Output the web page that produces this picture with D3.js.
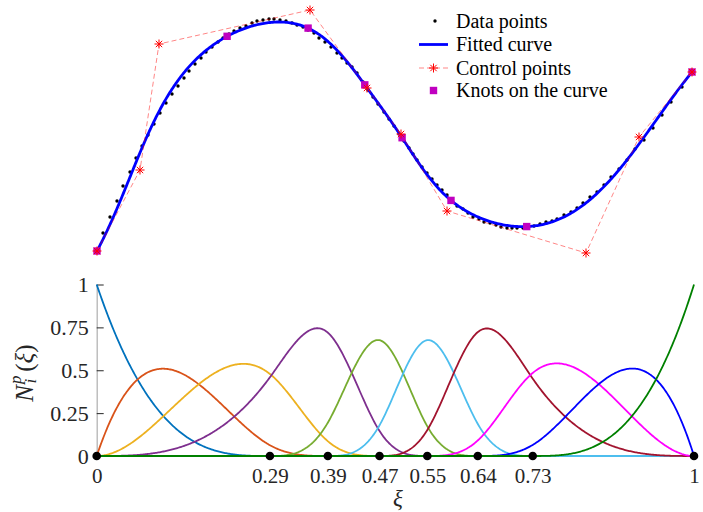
<!DOCTYPE html>
<html lang="en">
<head>
<meta charset="UTF-8">
<title>B-spline fit and basis functions</title>
<script src="https://cdn.jsdelivr.net/npm/d3@7"></script>
<style>
  body { margin: 0; background: #fff; }
  text { font-family: "Liberation Serif", "Times New Roman", serif; fill: #262626; }
</style>
</head>
<body>
<script>

var width = 703,
    height = 512

// cubic B-spline, clamped knot vector
var degree = 3
var knotVector = [0, 0, 0, 0, 0.29, 0.387, 0.4735, 0.5535, 0.638, 0.73, 1, 1, 1, 1]
var knotLabels = ["0", "0.29", "0.39", "0.47", "0.55", "0.64", "0.73", "1"]

var yTicks = [0, 0.25, 0.5, 0.75, 1]
var yTickLabels = ["0", "0.25", "0.5", "0.75", "1"]

// control points of the fitted curve (top panel units)
var ctrlX = [0, 43, 62, 213, 270, 304, 350, 489, 542, 595]
var ctrlY = [9, 90, 216, 250, 172, 126, 49, 7, 123, 188]

// measured data points
var dataX = [0, 6, 13, 20, 26, 33, 39, 45, 51, 57, 63, 69, 75, 81, 87, 92, 98, 104, 109, 115,
  121, 126, 132, 137, 143, 149, 155, 160, 166, 172, 177, 183, 189, 195, 200, 206, 211, 217, 222, 228,
  234, 240, 245, 250, 255, 260, 266, 271, 276, 281, 287, 292, 297, 302, 307, 312, 316, 320, 325, 330,
  335, 340, 345, 350, 355, 360, 366, 371, 376, 382, 387, 393, 399, 404, 410, 415, 420, 426, 431, 437,
  443, 449, 455, 460, 467, 474, 480, 486, 493, 500, 507, 514, 522, 530, 538, 547, 556, 565, 574, 585, 595]
var dataY = [9, 27, 43, 59, 74, 88, 102, 114, 125, 136, 147, 157, 166, 174, 182, 189, 196, 202, 208, 213,
  218, 222, 226, 229, 232, 234, 237, 239, 240, 241, 241, 240, 239, 237, 235, 233, 230, 227, 222, 218,
  213, 207, 202, 197, 193, 187, 178, 170, 163, 156, 148, 141, 134, 126, 119, 112, 106, 100, 93, 87,
  81, 75, 70, 65, 59, 54, 51, 47, 43, 41, 38, 37, 35, 33, 32, 32, 32, 32, 33, 34,
  36, 38, 39, 41, 45, 48, 52, 57, 63, 68, 75, 83, 91, 100, 111, 120, 132, 145, 158, 173, 188]

var legendNames = ["Data points", "Fitted curve", "Control points", "Knots on the curve"]
var basisColors = ["#0072BD", "#D95319", "#EDB120", "#7E2F8E", "#77AC30",
                   "#4DBEEE", "#A2142F", "#FF00FF", "#0000FF", "#008000"]

// Cox-de Boor recursion
function basisFn(i, p, t) {
  var U = knotVector
  if (p == 0) return (t >= U[i] && t < U[i + 1]) ? 1 : 0
  var a = 0, b = 0
  if (U[i + p] > U[i]) a = (t - U[i]) / (U[i + p] - U[i]) * basisFn(i, p - 1, t)
  if (U[i + p + 1] > U[i + 1]) b = (U[i + p + 1] - t) / (U[i + p + 1] - U[i + 1]) * basisFn(i + 1, p - 1, t)
  return a + b
}

var nBasis = knotVector.length - degree - 1
var params = d3.range(0, 1.0001, 1 / 600).map(function(t){ return Math.min(t, 1 - 1e-9) })

var basisData = d3.range(nBasis).map(function(i){
  return params.map(function(t){ return { t: t, v: basisFn(i, degree, t) } })
})

function curvePoint(t) {
  t = Math.min(t, 1 - 1e-9)
  var px = 0, py = 0
  for (var i = 0; i < nBasis; i++) {
    var n = basisFn(i, degree, t)
    px += n * ctrlX[i]
    py += n * ctrlY[i]
  }
  return [px, py]
}

var uniqueKnots = knotVector.filter(function(k, i){ return i == 0 || k != knotVector[i - 1] })

var svg = d3.select("body").append("svg")
    .attr("width", width)
    .attr("height", height)

// ---------- top panel ----------
var xTop = d3.scaleLinear().domain([0, 600]).range([97, 697])
var yTop = d3.scaleLinear().domain([0, 250]).range([260, 10])

var topG = svg.append("g")

topG.selectAll("circle.data").data(dataX).enter()
    .append("circle")
    .attr("class", "data")
    .attr("cx", function(d){ return xTop(d) })
    .attr("cy", function(d, i){ return yTop(dataY[i]) })
    .attr("r", 1.7)
    .style("fill", "#000")

var topLine = d3.line().x(function(d){ return xTop(d[0]) }).y(function(d){ return yTop(d[1]) })

topG.append("path")
    .datum(params.map(curvePoint))
    .attr("d", topLine)
    .style("fill", "none")
    .style("stroke", "#0000FF")
    .style("stroke-width", 2.8)

topG.append("path")
    .datum(ctrlX.map(function(cx, i){ return [cx, ctrlY[i]] }))
    .attr("d", topLine)
    .style("fill", "none")
    .style("stroke", "#ff0000")
    .style("stroke-opacity", 0.6)
    .style("stroke-width", 0.8)
    .style("stroke-dasharray", "5,3")

function starPath(r) {
  var a = r * 0.7071
  return "M" + (-r) + ",0L" + r + ",0M0," + (-r) + "L0," + r +
         "M" + (-a) + "," + (-a) + "L" + a + "," + a + "M" + (-a) + "," + a + "L" + a + "," + (-a)
}

topG.selectAll("rect.knot").data(uniqueKnots).enter()
    .append("rect")
    .attr("class", "knot")
    .attr("x", function(d){ return xTop(curvePoint(d)[0]) - 3.7 })
    .attr("y", function(d){ return yTop(curvePoint(d)[1]) - 3.7 })
    .attr("width", 7.4)
    .attr("height", 7.4)
    .style("fill", "#C000C0")

topG.selectAll("path.star").data(ctrlX).enter()
    .append("path")
    .attr("class", "star")
    .attr("transform", function(d, i){ return "translate(" + xTop(d) + "," + yTop(ctrlY[i]) + ")" })
    .attr("d", starPath(4.5))
    .style("stroke", "#ff0000")
    .style("stroke-width", 1)

// legend
var legend = svg.append("g")
var legendY = [21, 44.5, 68, 90.5]
legend.selectAll("text").data(legendNames).enter()
    .append("text")
    .attr("x", 456)
    .attr("y", function(d, i){ return legendY[i] + 6.5 })
    .style("font-size", "20px")
    .style("fill", "#000")
    .text(function(d){ return d })

legend.append("circle").attr("cx", 435).attr("cy", legendY[0]).attr("r", 1.7).style("fill", "#000")
legend.append("line").attr("x1", 419).attr("x2", 448).attr("y1", legendY[1]).attr("y2", legendY[1])
    .style("stroke", "#0000FF").style("stroke-width", 2.8)
legend.append("line").attr("x1", 419).attr("x2", 448).attr("y1", legendY[2]).attr("y2", legendY[2])
    .style("stroke", "#ff0000").style("stroke-opacity", 0.6).style("stroke-width", 0.8).style("stroke-dasharray", "5,3")
legend.append("path").attr("transform", "translate(433.5," + legendY[2] + ")").attr("d", starPath(4.5))
    .style("stroke", "#ff0000").style("stroke-width", 1)
legend.append("rect").attr("x", 433.5 - 3.7).attr("y", legendY[3] - 3.7).attr("width", 7.4).attr("height", 7.4)
    .style("fill", "#C000C0")

// ---------- bottom panel ----------
var x = d3.scaleLinear().domain([0, 1]).range([96.7, 694])
var y = d3.scaleLinear().domain([0, 1]).range([456, 284.5])

var bottom = svg.append("g")

var yAxis = bottom.append("g")
    .attr("transform", "translate(" + x(0) + ",0)")
    .call(d3.axisLeft(y).tickValues(yTicks)
        .tickFormat(function(d, i){ return yTickLabels[i] })
        .tickSizeInner(-7).tickSizeOuter(0).tickPadding(8))
yAxis.select(".domain").style("stroke", "#b4b4b4").style("stroke-width", 1.3)
yAxis.selectAll(".tick line").style("stroke", "#262626")
yAxis.selectAll(".tick text").style("font-size", "22px").style("font-family", "Liberation Serif").style("fill", "#262626")

var basisLine = d3.line().x(function(d){ return x(d.t) }).y(function(d){ return y(d.v) })

bottom.selectAll("path.basis").data(basisData).enter()
    .append("path")
    .attr("class", "basis")
    .attr("d", basisLine)
    .style("fill", "none")
    .style("stroke", function(d, i){ return basisColors[i] })
    .style("stroke-width", 1.8)

var xAxis = bottom.append("g")
    .attr("transform", "translate(0," + y(0) + ")")
    .call(d3.axisBottom(x).tickValues(uniqueKnots)
        .tickFormat(function(d, i){ return knotLabels[i] })
        .tickSize(0))
xAxis.select(".domain").remove()
xAxis.selectAll(".tick text")
    .attr("y", 27).attr("dy", null)
    .style("font-size", "21px").style("font-family", "Liberation Serif").style("fill", "#262626")

bottom.selectAll("circle.knotdot").data(uniqueKnots).enter()
    .append("circle")
    .attr("class", "knotdot")
    .attr("cx", function(d){ return x(d) })
    .attr("cy", y(0))
    .attr("r", 4.3)
    .style("fill", "#000")

// axis titles
var ylab = svg.append("text")
    .attr("transform", "translate(33,373) rotate(-90)")
    .attr("text-anchor", "middle")
    .style("font-size", "25px")
ylab.append("tspan").style("font-style", "italic").text("N")
ylab.append("tspan").style("font-style", "italic").style("font-size", "17px").attr("dy", -12).attr("dx", 1).text("p")
ylab.append("tspan").style("font-style", "italic").style("font-size", "17px").attr("dy", 15).attr("dx", -8).text("i")
ylab.append("tspan").attr("dy", -3).attr("dx", 7).text("(")
ylab.append("tspan").style("font-style", "italic").text("ξ")
ylab.append("tspan").text(")")

svg.append("text")
    .attr("x", 398)
    .attr("y", 506)
    .attr("text-anchor", "middle")
    .style("font-size", "23px")
    .style("font-style", "italic")
    .text("ξ")

</script>
</body>
</html>
